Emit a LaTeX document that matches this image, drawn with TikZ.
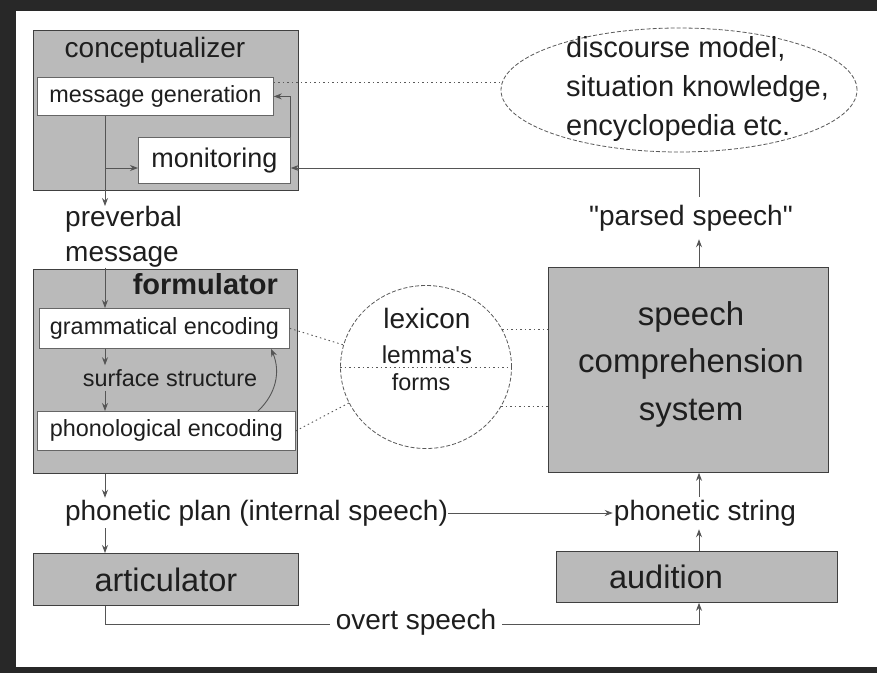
\documentclass[tikz,border=0pt]{standalone}
\usepackage{fontspec}
\setmainfont{Liberation Sans}
\newfontfamily\qfont{Liberation Sans}
\usetikzlibrary{arrows.meta,calc,shapes.geometric}
\definecolor{boxgray}{RGB}{186,186,186}
\definecolor{linegray}{RGB}{85,85,85}
\definecolor{txt}{RGB}{30,30,30}
\definecolor{framec}{RGB}{40,40,40}
\begin{document}
\begin{tikzpicture}[x=1pt,y=-1pt,
  gbox/.style={draw=black!75, line width=0.8pt, fill=boxgray, inner sep=0, anchor=north west},
  wbox/.style={draw=black!60, line width=0.8pt, fill=white, inner sep=0, anchor=north west, text=txt},
  lbl/.style={inner sep=0, text=txt},
  conn/.style={draw=linegray, line width=0.9pt, -{Stealth[length=8pt,width=6pt]}},
  plainl/.style={draw=linegray, line width=0.9pt},
  dotl/.style={draw=black!65, line width=0.9pt, dash pattern=on 1.5pt off 3pt},
  dashb/.style={draw=black!65, line width=0.8pt, dash pattern=on 4pt off 2pt},
  fs/.style={font=\fontsize{23.4}{28}\selectfont},
  fm/.style={font=\fontsize{28}{35}\selectfont},
  fb/.style={font=\fontsize{32.5}{38}\selectfont},
]
\useasboundingbox (0,0) rectangle (877,673);
\fill[white] (0,0) rectangle (877,673);
% frame
\fill[framec] (0,0) rectangle (877,11);
\fill[framec] (0,0) rectangle (16,673);
\fill[framec] (0,667) rectangle (877,673);

% helper coordinates
\coordinate (vx) at (105,0);
\coordinate (vr) at (699,0);
\coordinate (ym) at (0,168);
\coordinate (yo) at (0,624);
\coordinate (c1) at (258,0);
\coordinate (c2) at (271,0);

% conceptualizer
\node[gbox, minimum width=265, minimum height=160] (con) at (33,30) {};
\node[lbl, fm] (conT) at (155,50) {conceptualizer};
\node[wbox, fs, minimum width=236, minimum height=38] (msg) at (37,77) {message generation};
\node[wbox, font=\fontsize{27}{32}\selectfont, minimum width=152, minimum height=46] (mon) at (138,137) {monitoring};

% discourse ellipse
\node[dashb, ellipse, minimum width=356, minimum height=124, inner sep=0] (ell) at (679,90) {};
\node[lbl, font=\fontsize{29}{39}\selectfont, align=left, anchor=west] (ellT) at (566,89) {discourse model,\\situation knowledge,\\encyclopedia etc.};
\draw[dotl] ($(msg.north east)+(0,5)$) -- ($(ell.west)+(1.5,-8)$);

% preverbal message
\node[lbl, fm, align=left, anchor=north west] (pm) at (65,206) {preverbal\\message};
\draw[conn] (msg.south -| vx) -- (pm.north -| vx);
\draw[conn] (vx |- ym) -- (mon.west |- ym);
\draw[conn] (mon.north east) |- (msg.east);

% formulator
\node[gbox, minimum width=264, minimum height=204] (form) at (33,269) {};
\node[lbl, font=\fontsize{29}{35}\selectfont\bfseries, anchor=east] (formT) at (278,284) {formulator};
\node[wbox, fs, minimum width=250, minimum height=40] (gram) at (39,308) {grammatical encoding};
\node[lbl, fs, inner ysep=4pt] (ss) at (170,378) {surface structure};
\node[wbox, fs, minimum width=258, minimum height=39] (phon) at (37,411) {phonological encoding};
\draw[conn] (pm.south -| vx) -- (gram.north -| vx);
\draw[conn] (gram.south -| vx) -- (ss.north -| vx);
\draw[conn] (ss.south -| vx) -- (phon.north -| vx);
\draw[conn] (phon.north -| c1) to[bend right=35] (gram.south -| c2);

% lexicon
\node[dashb, ellipse, minimum width=171, minimum height=163, inner sep=0] (lex) at (426,367) {};
\node[lbl, font=\fontsize{28}{34}\selectfont] (lexT) at (427,318) {lexicon};
\node[lbl, font=\fontsize{24.5}{30}\selectfont] (lemT) at (427,355) {\qfont lemma's};
\node[lbl, font=\fontsize{23.4}{28}\selectfont] (forT) at (421,382) {forms};
\draw[dotl] (lex.west) -- (lex.east);
\draw[dotl] (gram.east) -- (lex.165);
\draw[dotl] (phon.east) -- (lex.205);

% speech comprehension system
\node[gbox, minimum width=280, minimum height=205] (scs) at (548,267) {};
\node[lbl, font=\fontsize{33}{47.5}\selectfont, align=center] (scsT) at (691,364) {speech\\comprehension\\system};
\draw[dotl] (lex.26) -- (scs.west |- lex.26);
\draw[dotl] (lex.-28) -- (scs.west |- lex.-28);

% parsed speech
\node[lbl, fm, inner ysep=8pt] (ps) at (691,218) {\qfont "parsed speech"};
\draw[conn] (scs.north -| vr) -- (ps.south -| vr);
\draw[conn] (ps.north -| vr) |- (mon.east |- ym);

% bottom
\node[lbl, fm, inner ysep=2pt] (pp) at (256.5,513) {phonetic plan (internal speech)};
\node[gbox, fb, minimum width=265, minimum height=52, text=txt] (art) at (33,553) {articulator};
\draw[conn] (form.south -| vx) -- (pp.north -| vx);
\draw[conn] (pp.south -| vx) -- (art.north -| vx);

\node[lbl, fm, inner ysep=3pt, inner xsep=1pt] (pstr) at (705,513) {phonetic string};
\draw[conn] (pp.east) -- (pstr.west);

\node[gbox, minimum width=281, minimum height=51] (aud) at (556,551) {};
\node[lbl, fb] (audT) at (666,577) {audition};
\draw[conn] (aud.north -| vr) -- (pstr.south -| vr);
\draw[conn] (pstr.north -| vr) -- (scs.south -| vr);

\node[lbl, fm, inner xsep=6pt] (ov) at (416,622) {overt speech};
\draw[plainl] (art.south -| vx) |- (ov.west |- yo);
\draw[conn] (ov.east |- yo) -| (aud.south -| vr);
\end{tikzpicture}
\end{document}
